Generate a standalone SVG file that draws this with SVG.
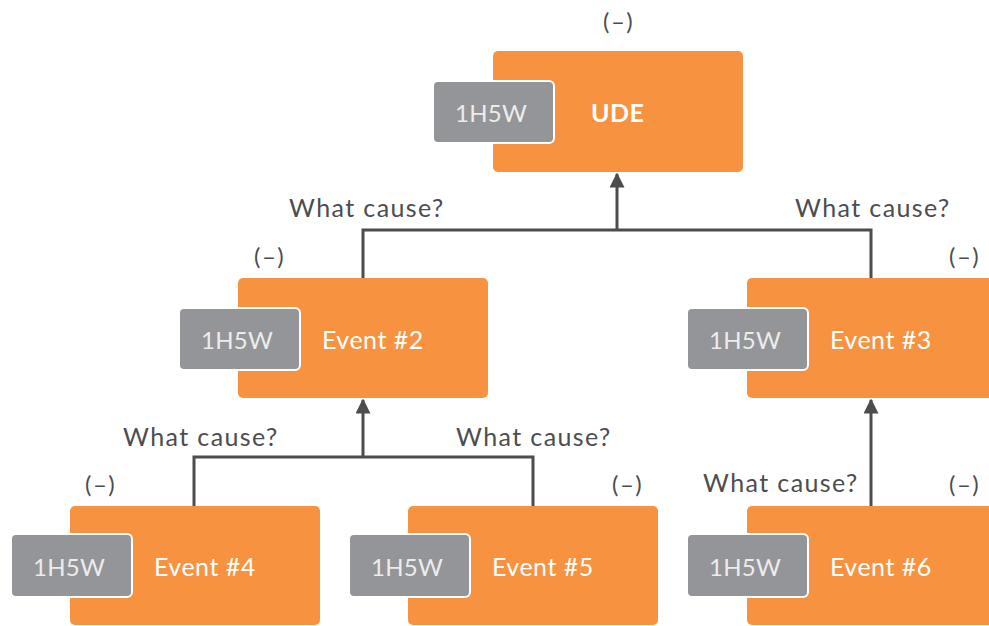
<svg xmlns="http://www.w3.org/2000/svg" width="989" height="626" viewBox="0 0 989 626">
<defs>
<style>
.box{fill:#F79340;}
.tag{fill:#939598;stroke:#ffffff;stroke-width:2;}
.tagt{font-family:Lato,"Noto Sans",sans-serif;font-size:24px;letter-spacing:0.3px;fill:#ececec;}
.lbl{font-family:Lato,"Noto Sans",sans-serif;font-size:25px;letter-spacing:0.5px;fill:#ffffff;}
.cap{font-family:Lato,"Noto Sans",sans-serif;font-size:25px;letter-spacing:1.4px;fill:#4d4d4f;}
.neg{font-family:Lato,"Noto Sans",sans-serif;font-size:24px;letter-spacing:1.5px;fill:#4d4d4f;}
.ln{fill:none;stroke:#4d4d4f;stroke-width:3;}
</style>
<marker id="ah" markerWidth="5" markerHeight="5" refX="4.5" refY="2.5" orient="auto" markerUnits="strokeWidth">
<path d="M0,0 L5,2.5 L0,5 Z" fill="#4d4d4f"/>
</marker>
</defs>
<rect width="989" height="626" fill="#ffffff"/>
<g id="connectors">
<path class="ln" d="M363,278 V230 H871 V278"/>
<path class="ln" d="M617,230 V174" marker-end="url(#ah)"/>
<path class="ln" d="M194,506 V457 H533 V506"/>
<path class="ln" d="M363,457 V400" marker-end="url(#ah)"/>
<path class="ln" d="M871,506 V400" marker-end="url(#ah)"/>
</g>
<g id="labels">
<text class="cap" x="289" y="217">What cause?</text>
<text class="cap" x="795" y="217">What cause?</text>
<text class="cap" x="123" y="446">What cause?</text>
<text class="cap" x="456" y="446">What cause?</text>
<text class="cap" x="703" y="492">What cause?</text>
</g>
<g id="ude">
<text class="neg" x="603" y="30">(–)</text>
<rect class="box" x="493" y="51" width="250" height="121" rx="5"/>
<rect class="tag" x="433" y="81" width="121" height="62" rx="5"/>
<text class="tagt" x="455" y="122">1H5W</text>
<text class="lbl" x="591" y="122" font-weight="bold" letter-spacing="0">UDE</text>
</g>
<g id="event2">
<text class="neg" x="254" y="265">(–)</text>
<rect class="box" x="238" y="278" width="250" height="120" rx="5"/>
<rect class="tag" x="179" y="308" width="121" height="62" rx="5"/>
<text class="tagt" x="201" y="349">1H5W</text>
<text class="lbl" x="322" y="349">Event #2</text>
</g>
<g id="event3">
<text class="neg" x="949" y="265">(–)</text>
<rect class="box" x="747" y="278" width="250" height="120" rx="5"/>
<rect class="tag" x="687" y="308" width="121" height="62" rx="5"/>
<text class="tagt" x="709" y="349">1H5W</text>
<text class="lbl" x="830" y="349">Event #3</text>
</g>
<g id="event4">
<text class="neg" x="85" y="493">(–)</text>
<rect class="box" x="70" y="506" width="250" height="119" rx="5"/>
<rect class="tag" x="11" y="534" width="121" height="63" rx="5"/>
<text class="tagt" x="33" y="576">1H5W</text>
<text class="lbl" x="154" y="576">Event #4</text>
</g>
<g id="event5">
<text class="neg" x="612" y="493">(–)</text>
<rect class="box" x="408" y="506" width="250" height="119" rx="5"/>
<rect class="tag" x="349" y="534" width="121" height="63" rx="5"/>
<text class="tagt" x="371" y="576">1H5W</text>
<text class="lbl" x="492" y="576">Event #5</text>
</g>
<g id="event6">
<text class="neg" x="949" y="493">(–)</text>
<rect class="box" x="747" y="506" width="250" height="119" rx="5"/>
<rect class="tag" x="687" y="534" width="121" height="63" rx="5"/>
<text class="tagt" x="709" y="576">1H5W</text>
<text class="lbl" x="830" y="576">Event #6</text>
</g>
</svg>
